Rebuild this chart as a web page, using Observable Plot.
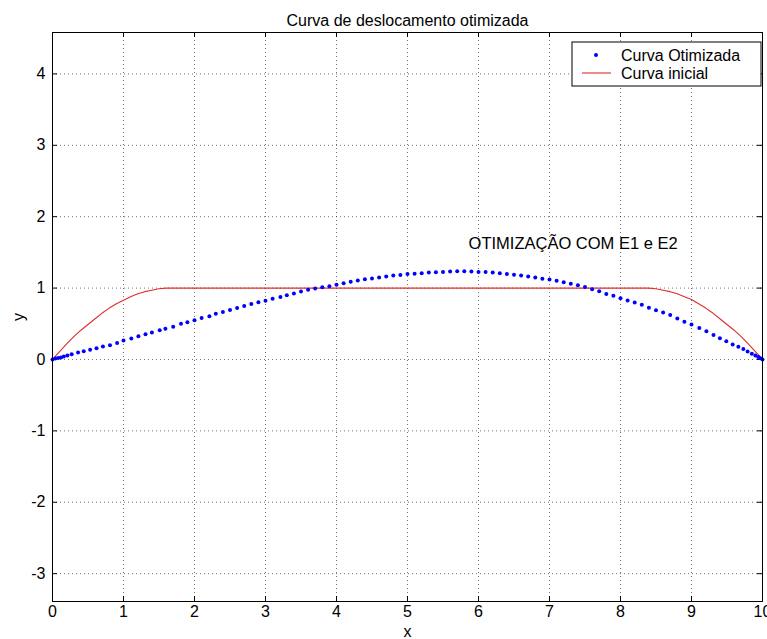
<!DOCTYPE html>
<html>
<head>
<meta charset="utf-8">
<script src="https://cdn.jsdelivr.net/npm/d3@7"></script>
<script src="https://cdn.jsdelivr.net/npm/@observablehq/plot@0.6"></script>
<style>
  html, body { margin: 0; padding: 0; background: #fff; }
  svg { display: block; }
</style>
</head>
<body>
<div id="chart"></div>
<script>
const titleText = "Curva de deslocamento otimizada";
const xLabel = "x";
const yLabel = "y";
const xTicks = [0, 1, 2, 3, 4, 5, 6, 7, 8, 9, 10];
const yTicks = [-3, -2, -1, 0, 1, 2, 3, 4];
const xDomain = [0, 10];
const yDomain = [-3.39, 4.58];

const seriesNames = ["Curva Otimizada", "Curva inicial"];

// Optimized curve (blue dots)
const blueX = [0, 0.04, 0.08, 0.12, 0.16, 0.21, 0.27, 0.36, 0.44, 0.53, 0.62, 0.71, 0.81, 0.91, 1.0,
  1.11, 1.21, 1.31, 1.40, 1.51, 1.59, 1.70, 1.81, 1.90, 2.0, 2.10, 2.21, 2.30, 2.40, 2.50,
  2.60, 2.70, 2.80, 2.90, 3.0, 3.10, 3.21, 3.30, 3.40, 3.50, 3.60, 3.70, 3.80, 3.90, 4.0,
  4.10, 4.20, 4.30, 4.40, 4.50, 4.60, 4.70, 4.80, 4.90, 5.0, 5.10, 5.20, 5.30, 5.40, 5.50,
  5.60, 5.70, 5.80, 5.90, 6.0, 6.10, 6.20, 6.30, 6.40, 6.50, 6.60, 6.70, 6.80, 6.90, 7.0,
  7.10, 7.20, 7.30, 7.40, 7.50, 7.60, 7.70, 7.80, 7.90, 8.0, 8.10, 8.20, 8.30, 8.40, 8.50,
  8.60, 8.70, 8.80, 8.90, 9.0, 9.11, 9.21, 9.31, 9.40, 9.49, 9.58, 9.66, 9.73, 9.79, 9.85,
  9.90, 9.94, 9.97, 10.0];
const blueY = [0, 0.012, 0.02, 0.029, 0.041, 0.055, 0.074, 0.098, 0.117, 0.137, 0.157, 0.181, 0.201, 0.231, 0.266,
  0.295, 0.324, 0.355, 0.378, 0.408, 0.432, 0.46, 0.50, 0.522, 0.549, 0.58, 0.607, 0.64, 0.664, 0.692,
  0.722, 0.748, 0.777, 0.8, 0.824, 0.852, 0.875, 0.9, 0.925, 0.952, 0.976, 0.995, 1.013, 1.026, 1.047,
  1.066, 1.09, 1.105, 1.124, 1.134, 1.148, 1.164, 1.175, 1.185, 1.196, 1.2, 1.208, 1.218, 1.222, 1.225,
  1.232, 1.235, 1.235, 1.233, 1.227, 1.224, 1.22, 1.208, 1.198, 1.188, 1.175, 1.161, 1.147, 1.132, 1.12,
  1.102, 1.081, 1.061, 1.038, 1.014, 0.985, 0.955, 0.918, 0.892, 0.859, 0.827, 0.798, 0.765, 0.725, 0.69,
  0.657, 0.622, 0.575, 0.528, 0.49, 0.441, 0.394, 0.343, 0.296, 0.254, 0.211, 0.178, 0.146, 0.113, 0.08,
  0.056, 0.033, 0.017, 0];

// Initial curve (red line)
const redX = [0, 0.1, 0.2, 0.3, 0.4, 0.5, 0.6, 0.7, 0.8, 0.9, 1.0, 1.1, 1.2, 1.3, 1.4, 1.5, 1.6, 1.7,
  8.3, 8.4, 8.5, 8.6, 8.7, 8.8, 8.9, 9.0, 9.1, 9.2, 9.3, 9.4, 9.5, 9.6, 9.7, 9.8, 9.9, 10.0];
const redY = [0, 0.11, 0.22, 0.32, 0.41, 0.49, 0.57, 0.65, 0.72, 0.78, 0.83, 0.88, 0.92, 0.95, 0.97, 0.99, 1.0, 1.0,
  1.0, 1.0, 0.99, 0.97, 0.95, 0.92, 0.88, 0.84, 0.78, 0.72, 0.65, 0.57, 0.49, 0.41, 0.32, 0.22, 0.11, 0];

const annotX = [5.86];
const annotY = [1.62];
const annotText = ["OTIMIZAÇÃO COM E1 e E2"];

const blue = blueX.map((x, i) => ({x, y: blueY[i]}));
const red = redX.map((x, i) => ({x, y: redY[i]}));
const annot = annotX.map((x, i) => ({x, y: annotY[i], text: annotText[i]}));

const W = 767, H = 639;
const mL = 52, mR = 5, mT = 32, mB = 38;
const innerW = W - mL - mR, innerH = H - mT - mB;
const tickLen = 5;
const font = "'Liberation Sans', Arial, Helvetica, sans-serif";
const redColor = "#e32b2b";
const fmt = d => String(d);

const chart = Plot.plot({
  width: W, height: H,
  marginLeft: mL, marginRight: mR, marginTop: mT, marginBottom: mB,
  style: {fontFamily: font, fontSize: "16px", background: "#fff", color: "#000", overflow: "visible"},
  x: {domain: xDomain},
  y: {domain: yDomain},
  marks: [
    Plot.gridX(xTicks, {stroke: "#000", strokeOpacity: 0.55, strokeDasharray: "1,3"}),
    Plot.gridY(yTicks, {stroke: "#000", strokeOpacity: 0.55, strokeDasharray: "1,3"}),
    Plot.tickX(xTicks, {x: d => d, insetTop: innerH - tickLen, stroke: "#000"}),
    Plot.tickX(xTicks, {x: d => d, insetBottom: innerH - tickLen, stroke: "#000"}),
    Plot.tickY(yTicks, {y: d => d, insetRight: innerW - tickLen, stroke: "#000"}),
    Plot.tickY(yTicks, {y: d => d, insetLeft: innerW - tickLen, stroke: "#000"}),
    Plot.axisX(xTicks, {anchor: "bottom", tickSize: 0, tickPadding: 4, fontSize: 16, tickFormat: fmt,
      label: xLabel, labelAnchor: "center", labelArrow: "none", labelOffset: 35}),
    Plot.axisY(yTicks, {anchor: "left", tickSize: 0, tickPadding: 7, fontSize: 16, tickFormat: fmt,
      label: yLabel, labelAnchor: "center", labelArrow: "none", labelOffset: 40}),
    Plot.line(red, {x: "x", y: "y", stroke: redColor, strokeWidth: 1.1}),
    Plot.dot(blue, {x: "x", y: "y", r: 2, fill: "#0000ff", stroke: "none"}),
    Plot.text(annot, {x: "x", y: "y", text: "text", textAnchor: "start", fontSize: 16.5, fill: "#000"}),
    Plot.text([titleText], {frameAnchor: "top", dy: -18, fontSize: 16, fill: "#000"}),
    Plot.frame({stroke: "#000", strokeWidth: 1})
  ]
});

document.getElementById("chart").appendChild(chart);

// Legend box in the upper right of the plot area
const svg = d3.select(chart);
const lg = svg.append("g").attr("font-family", font).attr("font-size", 16).attr("text-anchor", "start");
const lx = 572, ly = 42, lw = 189, lh = 44;
lg.append("rect").attr("x", lx).attr("y", ly).attr("width", lw).attr("height", lh)
  .attr("fill", "#fff").attr("stroke", "#000").attr("stroke-width", 1);
lg.append("circle").attr("cx", lx + 24).attr("cy", ly + 13).attr("r", 2).attr("fill", "#0000ff");
lg.append("line").attr("x1", lx + 10).attr("x2", lx + 39).attr("y1", ly + 31).attr("y2", ly + 31)
  .attr("stroke", redColor).attr("stroke-width", 1.1);
lg.append("text").attr("x", lx + 49).attr("y", ly + 13).attr("dy", "0.35em").attr("fill", "#000").text(seriesNames[0]);
lg.append("text").attr("x", lx + 49).attr("y", ly + 31).attr("dy", "0.35em").attr("fill", "#000").text(seriesNames[1]);
</script>
</body>
</html>
